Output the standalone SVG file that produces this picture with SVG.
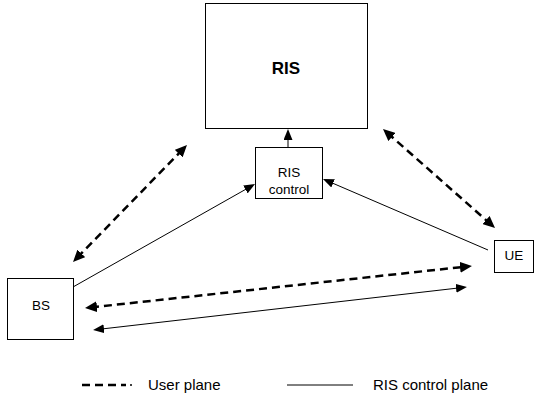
<svg xmlns="http://www.w3.org/2000/svg" width="534" height="403" viewBox="0 0 534 403">
<style>
.box{fill:#fff;stroke:#000;stroke-width:1}
.lbl{font-family:"Liberation Sans",Arial,sans-serif;font-size:13.5px;fill:#000;text-anchor:middle}
.leg{font-family:"Liberation Sans",Arial,sans-serif;font-size:15px;fill:#000}
.solid{stroke:#000;stroke-width:1;fill:none}
.dash{stroke:#000;stroke-width:2.5;stroke-dasharray:8 5;fill:none}
</style>
<defs>
<marker id="as" markerUnits="userSpaceOnUse" markerWidth="11" markerHeight="9" refX="5" refY="4.5" orient="auto-start-reverse">
<path d="M0,0 L11,4.5 L0,9 z" fill="#000"/>
</marker>
<marker id="ad" markerUnits="userSpaceOnUse" markerWidth="12" markerHeight="11" refX="6" refY="5.5" orient="auto-start-reverse">
<path d="M0,0 L12,5.5 L0,11 z" fill="#000"/>
</marker>
</defs>
<g id="ris"><rect class="box" x="205.5" y="3.5" width="162" height="125"/><text class="lbl" x="286" y="74" style="font-weight:bold;font-size:17px">RIS</text></g>
<g id="ris-control"><rect class="box" x="255.5" y="147.5" width="67" height="51"/><text class="lbl" x="289" y="177">RIS</text><text class="lbl" x="289" y="194">control</text></g>
<g id="bs"><rect class="box" x="7.5" y="278.5" width="66" height="61"/><text class="lbl" x="41" y="310">BS</text></g>
<g id="ue"><rect class="box" x="494.5" y="240.5" width="39" height="32"/><text class="lbl" x="514" y="260">UE</text></g>
<g id="connectors">
<line class="solid" x1="288" y1="147" x2="288" y2="135" marker-end="url(#as)"/>
<line class="solid" x1="73" y1="287" x2="249.8" y2="187" marker-end="url(#as)"/>
<line class="solid" x1="488" y1="250" x2="328.5" y2="181.4" marker-end="url(#as)"/>
<line class="dash" x1="77.2" y1="257.7" x2="182.8" y2="149.3" marker-start="url(#ad)" marker-end="url(#ad)"/>
<line class="dash" x1="387.5" y1="133" x2="490.5" y2="224" marker-start="url(#ad)" marker-end="url(#ad)"/>
<line class="dash" x1="91" y1="307.4" x2="466" y2="266.6" marker-start="url(#ad)" marker-end="url(#ad)"/>
<line class="solid" x1="99" y1="329.3" x2="461" y2="287.7" marker-start="url(#as)" marker-end="url(#as)"/>
</g>
<g id="legend">
<line class="dash" x1="82" y1="385" x2="126" y2="385"/>
<line class="solid" x1="130" y1="385" x2="132" y2="385" style="stroke-width:1.5"/>
<text class="leg" x="148" y="390">User plane</text>
<line class="solid" x1="287" y1="385" x2="353" y2="385"/>
<text class="leg" x="373" y="390">RIS control plane</text>
</g>
</svg>
